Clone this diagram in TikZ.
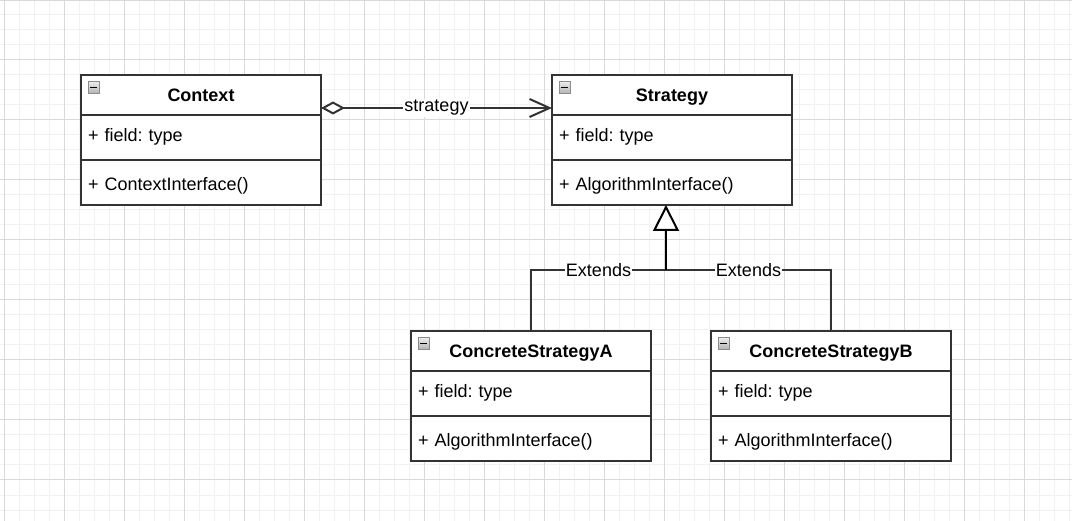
\documentclass[tikz,border=0pt]{standalone}
\usepackage{fontspec}
\setmainfont{Liberation Sans}
\usetikzlibrary{arrows.meta,positioning,calc}
\definecolor{edge}{HTML}{333333}
\definecolor{gridmaj}{HTML}{D9D9D9}
\definecolor{gridmin}{HTML}{F2F2F2}
\frenchspacing
\tikzset{
 head/.style={draw=edge,line width=2pt,fill=white,minimum width=240pt,minimum height=40pt,inner sep=0pt,outer sep=0pt,text height=14pt,text depth=0pt,font=\fontsize{18}{21}\selectfont\bfseries},
 attr/.style={draw=edge,line width=2pt,fill=white,minimum height=45pt,text width=226pt,inner xsep=7pt,inner ysep=0pt,outer sep=0pt,text depth=0pt,align=left},
 fieldrow/.style={attr,text height=9pt},
 methrow/.style={attr,text height=17pt},
 icon/.style={draw=gray!90,line width=.6pt,top color=gray!15,bottom color=gray!60,minimum width=11pt,minimum height=12pt,inner sep=0pt},
 conn/.style={draw=edge,line width=2pt},
 lbl/.style={fill=white,inner sep=1pt}
}
\newcommand{\umlclass}[5]{%
\node[head,anchor=north west](#1)at(#2,#3){#4};
\node[fieldrow,anchor=north](#1-f)at(#1.south){+ field: type};
\node[methrow,anchor=north](#1-m)at(#1-f.south){+ #5};
\node[icon](#1-i)at([xshift=12.5pt,yshift=-12.5pt]#1.north west){};
\draw[line width=1.6pt]([xshift=-3.5pt]#1-i.center)--([xshift=3.5pt]#1-i.center);
}
\begin{document}
\begin{tikzpicture}[x=1pt,y=-1pt,every node/.style={font=\fontsize{18}{21}\selectfont}]
\useasboundingbox(0,0)rectangle(1072,521);
\fill[white](0,0)rectangle(1072,521);
\begin{scope}[xshift=4pt]
\draw[gridmin,line width=1pt,step=15pt](-4,521)grid(1068,0);
\draw[gridmaj,line width=1pt,step=60pt](-4,521)grid(1068,0);
\end{scope}
\umlclass{ctx}{81}{75}{Context}{ContextInterface()}
\umlclass{str}{552}{75}{Strategy}{AlgorithmInterface()}
\umlclass{csa}{411}{331}{ConcreteStrategyA}{AlgorithmInterface()}
\umlclass{csb}{711}{331}{ConcreteStrategyB}{AlgorithmInterface()}
\draw[conn,{Diamond[fill=white,length=24pt,width=13pt]}-{Straight Barb[length=20pt,width=18pt]}]([yshift=-33pt]ctx.north east)--node[lbl]{strategy}([yshift=-33pt]str.north west);
\coordinate(jn)at([xshift=-6pt,yshift=-65pt]str-m.south);
\draw[conn](csa.north)|-node[lbl,pos=.75]{Extends}(jn);
\draw[conn](csb.north)|-node[lbl,pos=.75]{Extends}(jn);
\draw[conn,draw=black,-{Triangle[fill=white,length=26pt,width=26pt]}](jn)--(jn|-str-m.south);
\end{tikzpicture}
\end{document}
